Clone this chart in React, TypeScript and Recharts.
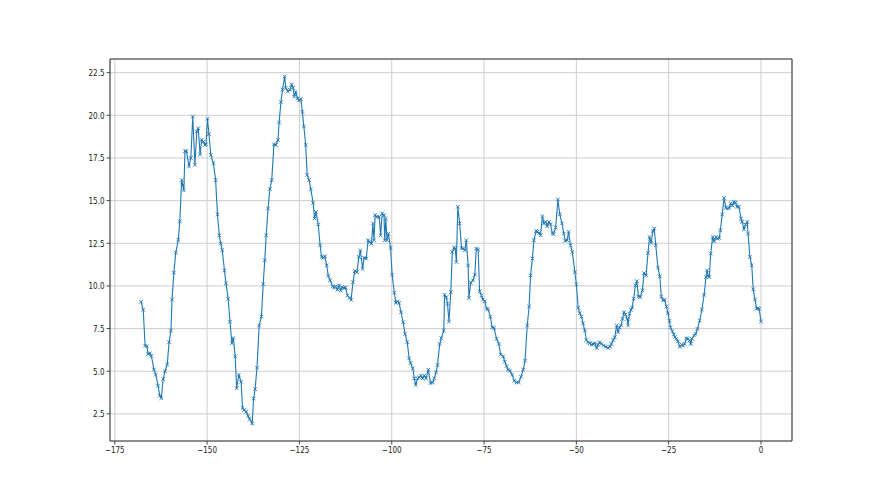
import React from "react";
import { LineChart, Line, XAxis, YAxis, CartesianGrid, ReferenceArea } from "recharts";

const xs: number[] = [
  -167.9, -167.3, -166.8, -166.3, -166.0, -165.5, -165.1, -164.4, -163.9, -163.3, -162.8, -162.4, -161.9, -161.4, -160.8,
  -160.3, -159.8, -159.5, -159.0, -158.5, -157.8, -157.4, -156.9, -156.6, -156.3, -156.0, -155.6, -154.9, -154.4, -153.9,
  -153.3, -152.8, -152.4, -151.9, -151.5, -151.0, -150.6, -150.3, -149.9, -149.5, -149.0, -148.3, -147.7, -147.2, -146.7,
  -146.3, -145.9, -145.3, -144.9, -144.3, -143.8, -143.3, -142.9, -142.4, -142.0, -141.4, -140.8, -140.4, -140.0, -139.4,
  -138.9, -138.5, -137.8, -137.4, -137.0, -136.5, -135.9, -135.3, -134.8, -134.4, -134.0, -133.5, -133.0, -132.5, -131.9,
  -131.4, -130.8, -130.5, -130.0, -129.6, -129.0, -128.7, -128.1, -127.6, -127.1, -126.7, -126.4, -126.0, -125.5, -125.1,
  -124.6, -124.2, -123.8, -123.3, -122.9, -122.4, -121.9, -121.3, -120.9, -120.5, -119.9, -119.4, -119.0, -118.5, -118.1,
  -117.6, -117.2, -116.7, -116.0, -115.6, -115.2, -114.7, -114.3, -113.8, -113.4, -112.9, -112.5, -112.0, -111.4, -111.0,
  -110.5, -110.0, -109.4, -108.9, -108.5, -107.9, -107.5, -106.9, -106.4, -106.0, -105.5, -105.1, -104.8, -104.5, -104.0,
  -103.4, -103.0, -102.6, -102.1, -101.9, -101.6, -101.3, -100.9, -100.3, -99.9, -99.3, -98.9, -98.4, -98.0, -97.5,
  -96.9, -96.4, -95.8, -95.3, -94.9, -94.3, -93.9, -93.5, -93.0, -92.6, -92.1, -91.6, -91.2, -90.7, -90.1,
  -89.5, -88.9, -88.5, -88.0, -87.6, -87.0, -86.6, -85.9, -85.7, -85.2, -84.9, -84.5, -84.0, -83.6, -83.1,
  -82.8, -82.5, -82.1, -81.6, -81.1, -80.7, -80.2, -79.8, -79.3, -79.1, -78.6, -78.0, -77.5, -77.1, -76.6,
  -76.2, -75.7, -75.3, -74.8, -74.3, -73.9, -73.3, -72.8, -72.3, -71.6, -71.0, -70.5, -69.8, -69.4, -68.9,
  -68.5, -68.0, -67.4, -66.8, -66.2, -65.6, -65.0, -64.4, -63.9, -63.3, -62.8, -62.4, -61.9, -61.5, -60.9,
  -60.6, -60.1, -59.7, -59.2, -58.8, -58.3, -57.9, -57.4, -57.0, -56.5, -56.2, -55.6, -55.0, -54.5, -53.9,
  -53.4, -53.0, -52.5, -52.1, -51.6, -51.1, -50.4, -50.0, -49.5, -49.1, -48.6, -48.2, -47.7, -47.3, -46.8,
  -46.4, -45.9, -45.5, -45.0, -44.5, -44.1, -43.7, -43.2, -42.6, -42.0, -41.4, -40.9, -40.5, -40.0, -39.6,
  -39.1, -38.7, -38.3, -37.9, -37.5, -37.1, -36.7, -36.2, -36.0, -35.6, -35.2, -34.9, -34.5, -34.0, -33.6,
  -33.2, -32.7, -32.1, -31.7, -31.1, -30.6, -30.2, -29.7, -29.3, -28.9, -28.5, -27.9, -27.4, -27.0, -26.5,
  -26.1, -25.6, -25.2, -24.8, -24.5, -24.0, -23.6, -23.3, -22.9, -22.5, -22.0, -21.5, -21.1, -20.7, -20.2,
  -19.8, -19.3, -19.0, -18.7, -18.1, -17.7, -17.2, -16.6, -16.0, -15.4, -14.9, -14.6, -14.3, -14.0, -13.6,
  -13.1, -12.7, -12.2, -11.8, -11.3, -11.0, -10.5, -10.0, -9.5, -9.0, -8.6, -8.2, -7.7, -7.3, -6.9,
  -6.5, -6.0, -5.4, -5.1, -4.6, -4.2, -3.7, -3.5, -3.0, -2.5, -2.1, -1.6, -1.2, -0.8, -0.5,
  0.0,
];

const ys: number[] = [
  9.07, 8.6, 6.5, 6.46, 6.0, 6.05, 5.9, 5.1, 4.8, 4.15, 3.56, 3.42, 4.54, 5.0, 5.4,
  6.7, 7.38, 9.2, 10.78, 11.95, 12.7, 13.78, 16.2, 15.9, 15.6, 17.9, 17.9, 17.0, 17.5, 19.93,
  17.1, 19.05, 19.24, 17.7, 18.56, 18.46, 18.26, 18.3, 19.8, 18.9, 17.68, 17.2, 16.2, 14.2, 12.97,
  12.48, 12.1, 10.9, 10.16, 9.25, 7.9, 6.64, 6.95, 5.87, 4.0, 4.8, 4.38, 2.85, 2.72, 2.63,
  2.38, 2.2, 1.93, 3.4, 3.95, 5.2, 7.68, 8.2, 10.1, 11.5, 12.97, 14.54, 15.68, 16.2, 18.3,
  18.26, 18.55, 19.58, 20.77, 21.5, 22.28, 21.6, 21.4, 21.5, 21.8, 21.6, 21.1, 21.36, 21.0, 20.87,
  20.95, 20.2, 19.34, 18.26, 16.5, 16.2, 15.66, 14.87, 13.95, 14.34, 13.6, 12.38, 11.7, 11.66, 11.74,
  11.2, 10.6, 10.33, 9.97, 9.9, 9.97, 9.78, 10.03, 9.74, 9.93, 9.87, 9.9, 9.44, 9.3, 9.19,
  10.22, 10.87, 10.81, 11.7, 12.09, 11.0, 11.66, 11.6, 12.68, 12.58, 12.48, 13.66, 12.68, 14.15, 14.05,
  14.05, 12.97, 14.25, 14.15, 12.68, 13.95, 12.68, 13.07, 12.22, 10.66, 9.6, 9.01, 9.09, 9.01, 8.46,
  7.87, 7.19, 6.7, 5.75, 5.48, 5.17, 4.58, 4.19, 4.58, 4.64, 4.74, 4.58, 4.74, 4.58, 5.09,
  4.3, 4.34, 4.58, 4.93, 5.36, 6.6, 6.93, 7.38, 9.48, 9.34, 8.95, 7.91, 9.63, 11.99, 12.25,
  12.19, 11.4, 14.64, 13.66, 12.22, 12.19, 12.09, 12.68, 11.2, 9.28, 10.19, 10.33, 10.66, 12.19, 12.13,
  9.68, 9.44, 9.2, 9.1, 8.66, 8.62, 8.2, 7.57, 7.54, 6.9, 6.6, 5.97, 5.87, 5.56, 5.3,
  5.09, 5.03, 4.8, 4.44, 4.34, 4.34, 4.68, 5.09, 5.62, 7.68, 8.79, 10.62, 11.6, 12.68, 13.22,
  13.17, 13.1, 12.97, 14.09, 13.66, 13.75, 13.5, 13.75, 13.62, 13.1, 13.03, 13.42, 15.07, 14.2, 13.66,
  13.07, 12.64, 12.68, 13.17, 12.38, 11.99, 10.81, 10.09, 8.72, 8.4, 8.2, 7.81, 7.38, 6.83, 6.7,
  6.64, 6.56, 6.6, 6.64, 6.36, 6.56, 6.7, 6.6, 6.5, 6.44, 6.36, 6.44, 6.6, 6.83, 6.99,
  7.68, 7.28, 7.57, 7.68, 8.07, 8.46, 8.32, 8.07, 7.68, 8.36, 8.6, 8.72, 9.25, 10.03, 10.28,
  9.38, 9.34, 9.74, 10.75, 10.62, 11.93, 12.87, 12.52, 13.22, 13.36, 12.38, 11.07, 10.56, 9.38, 9.15,
  9.19, 8.79, 8.4, 7.95, 7.57, 7.34, 7.15, 7.0, 6.9, 6.75, 6.44, 6.56, 6.5, 6.6, 6.93,
  6.9, 6.8, 6.6, 6.9, 7.09, 7.19, 7.48, 7.97, 8.62, 9.48, 10.52, 10.91, 10.58, 10.52, 11.9,
  12.87, 12.62, 12.87, 12.77, 12.81, 13.26, 14.19, 15.16, 14.58, 14.54, 14.58, 14.83, 14.7, 14.93, 14.89,
  14.64, 14.64, 13.95, 13.75, 13.32, 13.6, 13.75, 13.07, 11.7, 11.21, 9.8, 9.2, 8.66, 8.7, 8.66,
  7.91,
];

const xTicks: number[] = [-175, -150, -125, -100, -75, -50, -25, 0];
const yTicks: number[] = [2.5, 5.0, 7.5, 10.0, 12.5, 15.0, 17.5, 20.0, 22.5];
const xDomain: [number, number] = [-176.3, 8.4];
const yDomain: [number, number] = [0.91, 23.3];

const data = xs.map((x, i) => ({ x, y: ys[i] }));

const COLOR = "#1f77b4";
const FONT = "DejaVu Sans, sans-serif";

const fmtX = (v: number) => (v < 0 ? "\u2212" + Math.abs(v) : String(v));

const XTick = (props: any) => {
  const { x, y, payload } = props;
  return (
    <text
      transform={`translate(${x},${y + 6.2}) scale(0.8,1)`}
      textAnchor="middle"
      fontSize={9}
      fontFamily={FONT}
      fill="#222"
    >
      {fmtX(payload.value)}
    </text>
  );
};

const YTick = (props: any) => {
  const { x, y, payload } = props;
  return (
    <text
      transform={`translate(${x},${y + 3.3}) scale(0.8,1)`}
      textAnchor="end"
      fontSize={9}
      fontFamily={FONT}
      fill="#222"
    >
      {Number(payload.value).toFixed(1)}
    </text>
  );
};

const XMarker = (props: any) => {
  const { cx, cy, index } = props;
  if (cx == null || cy == null) return <g key={`m${index}`} />;
  const s = 1.8;
  return (
    <path
      key={`m${index}`}
      d={`M${cx - s},${cy - s}L${cx + s},${cy + s}M${cx - s},${cy + s}L${cx + s},${cy - s}`}
      stroke={COLOR}
      strokeWidth={0.9}
      fill="none"
    />
  );
};

export default function App() {
  return (
    <div style={{ position: "absolute", left: 0, top: 0, width: 880, height: 495, background: "#fff" }}>
      <LineChart
        width={880}
        height={495}
        data={data}
        margin={{ top: 59, right: 88, bottom: 24, left: 50 }}
      >
        <CartesianGrid stroke="#c8c8c8" strokeWidth={0.9} />
        <XAxis
          dataKey="x"
          type="number"
          domain={xDomain}
          ticks={xTicks}
          allowDataOverflow
          height={30}
          axisLine={false}
          tickLine={{ stroke: "#333", strokeWidth: 0.9 }}
          tickSize={3.5}
          tickMargin={2}
          tick={<XTick />}
          interval={0}
        />
        <YAxis
          dataKey="y"
          type="number"
          domain={yDomain}
          ticks={yTicks}
          allowDataOverflow
          width={60}
          axisLine={false}
          tickLine={{ stroke: "#333", strokeWidth: 0.9 }}
          tickSize={3.5}
          tickMargin={2}
          tick={<YTick />}
          interval={0}
        />
        <Line
          type="linear"
          dataKey="y"
          stroke={COLOR}
          strokeWidth={1.1}
          dot={<XMarker />}
          activeDot={false}
          isAnimationActive={false}
        />
        <ReferenceArea
          x1={xDomain[0]}
          x2={xDomain[1]}
          y1={yDomain[0]}
          y2={yDomain[1]}
          fill="none"
          fillOpacity={0}
          stroke="#333"
          strokeWidth={1}
          ifOverflow="visible"
        />
      </LineChart>
    </div>
  );
}
